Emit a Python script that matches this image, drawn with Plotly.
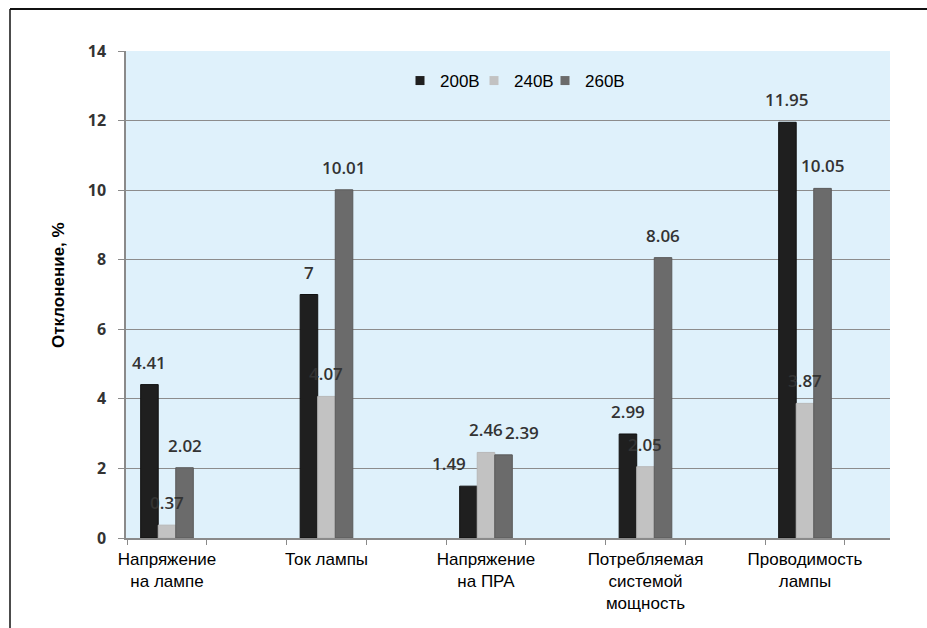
import plotly.graph_objects as go

# Parameters measured on the lamp / ballast system
categories = [
    "Напряжение<br>на лампе",
    "Ток лампы",
    "Напряжение<br>на ПРА",
    "Потребляемая<br>системой<br>мощность",
    "Проводимость<br>лампы",
]
series_names = ["200В", "240В", "260В"]
values_200 = [4.41, 7, 1.49, 2.99, 11.95]
values_240 = [0.37, 4.07, 2.46, 2.05, 3.87]
values_260 = [2.02, 10.01, 2.39, 8.06, 10.05]
y_ticks = [0, 2, 4, 6, 8, 10, 12, 14]

series_values = [values_200, values_240, values_260]
colors = ["#1f1f1f", "#c2c2c2", "#6b6b6b"]
edge_colors = ["#111111", "#b8b8b8", "#5a5a5a"]

W, H = 927, 628
L, R, T, B = 126, 37, 51, 90
plot_w = W - L - R
plot_h = H - T - B

X_MIN, X_MAX = -0.257, 4.533
BAR_W = 0.11

# small horizontal nudges of value labels that would otherwise collide (px)
label_nudge = {(0, 2): -19, (2, 2): 18}
# left edges (px) of the three single-entry legends
legend_left_px = [400, 474, 545]


def px_x(px):
    return (px - L) / plot_w


def px_y(py):
    return (T + plot_h - py) / plot_h


x_pos = list(range(len(categories)))
legend_ids = ["legend", "legend2", "legend3"]

fig = go.Figure()
n_series = len(series_names)
for k, (name, vals) in enumerate(zip(series_names, series_values)):
    fig.add_trace(go.Bar(
        x=x_pos,
        y=vals,
        name=name,
        width=BAR_W,
        offset=(k - n_series / 2) * BAR_W,
        marker=dict(color=colors[k], line=dict(color=edge_colors[k], width=1)),
        showlegend=False,
        hoverinfo="y",
    ))
    # legend entry drawn with a small square marker
    fig.add_trace(go.Scatter(
        x=[None], y=[None], mode="markers", name=name,
        marker=dict(symbol="square", size=9, color=colors[k]),
        showlegend=True, legend=legend_ids[k],
    ))

annotations = []
# value labels above bars
for k, vals in enumerate(series_values):
    center_off = (k - (n_series - 1) / 2) * BAR_W
    for i, v in enumerate(vals):
        annotations.append(dict(
            x=i + center_off, y=v, xref="x", yref="y",
            text=f"{v:g}", showarrow=False,
            xanchor="center", yanchor="bottom",
            yshift=9, xshift=label_nudge.get((k, i), 0),
            font=dict(family="Open Sans", size=17, color="#333333", weight=600),
        ))

# y-axis title
annotations.append(dict(
    x=px_x(58), y=px_y(285),
    xref="paper", yref="paper",
    text="<b>Отклонение, %</b>", textangle=-90, showarrow=False,
    xanchor="center", yanchor="middle",
    font=dict(family="Liberation Sans", size=17, color="#000000"),
))

shapes = [
    dict(type="line", xref="paper", yref="paper",
         x0=px_x(10), x1=px_x(W + 5), y0=px_y(9), y1=px_y(9),
         line=dict(color="#111111", width=2)),
    dict(type="line", xref="paper", yref="paper",
         x0=px_x(10), x1=px_x(10), y0=px_y(9), y1=px_y(H + 5),
         line=dict(color="#111111", width=1.5)),
]

tick_marks = []
for i in x_pos:
    tick_marks += [i - 0.25, i + 0.25]

legend_style = dict(
    orientation="h", xanchor="left", yanchor="middle",
    y=px_y(81),
    bgcolor="rgba(0,0,0,0)",
    font=dict(family="Liberation Sans", size=17, color="#000000"),
    itemclick=False,
)

fig.update_layout(
    width=W, height=H,
    margin=dict(l=L, r=R, t=T, b=B),
    paper_bgcolor="#ffffff",
    plot_bgcolor="#dff1fb",
    barmode="overlay",
    showlegend=True,
    legend=dict(x=px_x(legend_left_px[0]), **legend_style),
    legend2=dict(x=px_x(legend_left_px[1]), **legend_style),
    legend3=dict(x=px_x(legend_left_px[2]), **legend_style),
    xaxis=dict(
        range=[X_MIN, X_MAX],
        tickmode="array", tickvals=x_pos, ticktext=categories,
        ticks="", ticklabelstandoff=5,
        tickfont=dict(family="Liberation Sans", size=17, color="#000000"),
        minor=dict(
            tickmode="array", tickvals=tick_marks,
            ticks="outside", ticklen=5, tickcolor="#8a8a8a", tickwidth=1,
            showgrid=False,
        ),
        showgrid=False, zeroline=False,
        showline=True, linecolor="#8a8a8a", linewidth=1.5,
    ),
    yaxis=dict(
        range=[0, 14],
        tickmode="array", tickvals=y_ticks,
        ticks="outside", ticklen=6, tickcolor="#8a8a8a", tickwidth=1,
        showgrid=True, gridcolor="#8c8c8c", gridwidth=1,
        zeroline=False,
        showline=True, linecolor="#8a8a8a", linewidth=1.5,
        tickfont=dict(family="Open Sans", size=16, color="#333333", weight="bold"),
        ticklabelstandoff=9,
    ),
    annotations=annotations,
    shapes=shapes,
)

fig.write_html("out.html")
